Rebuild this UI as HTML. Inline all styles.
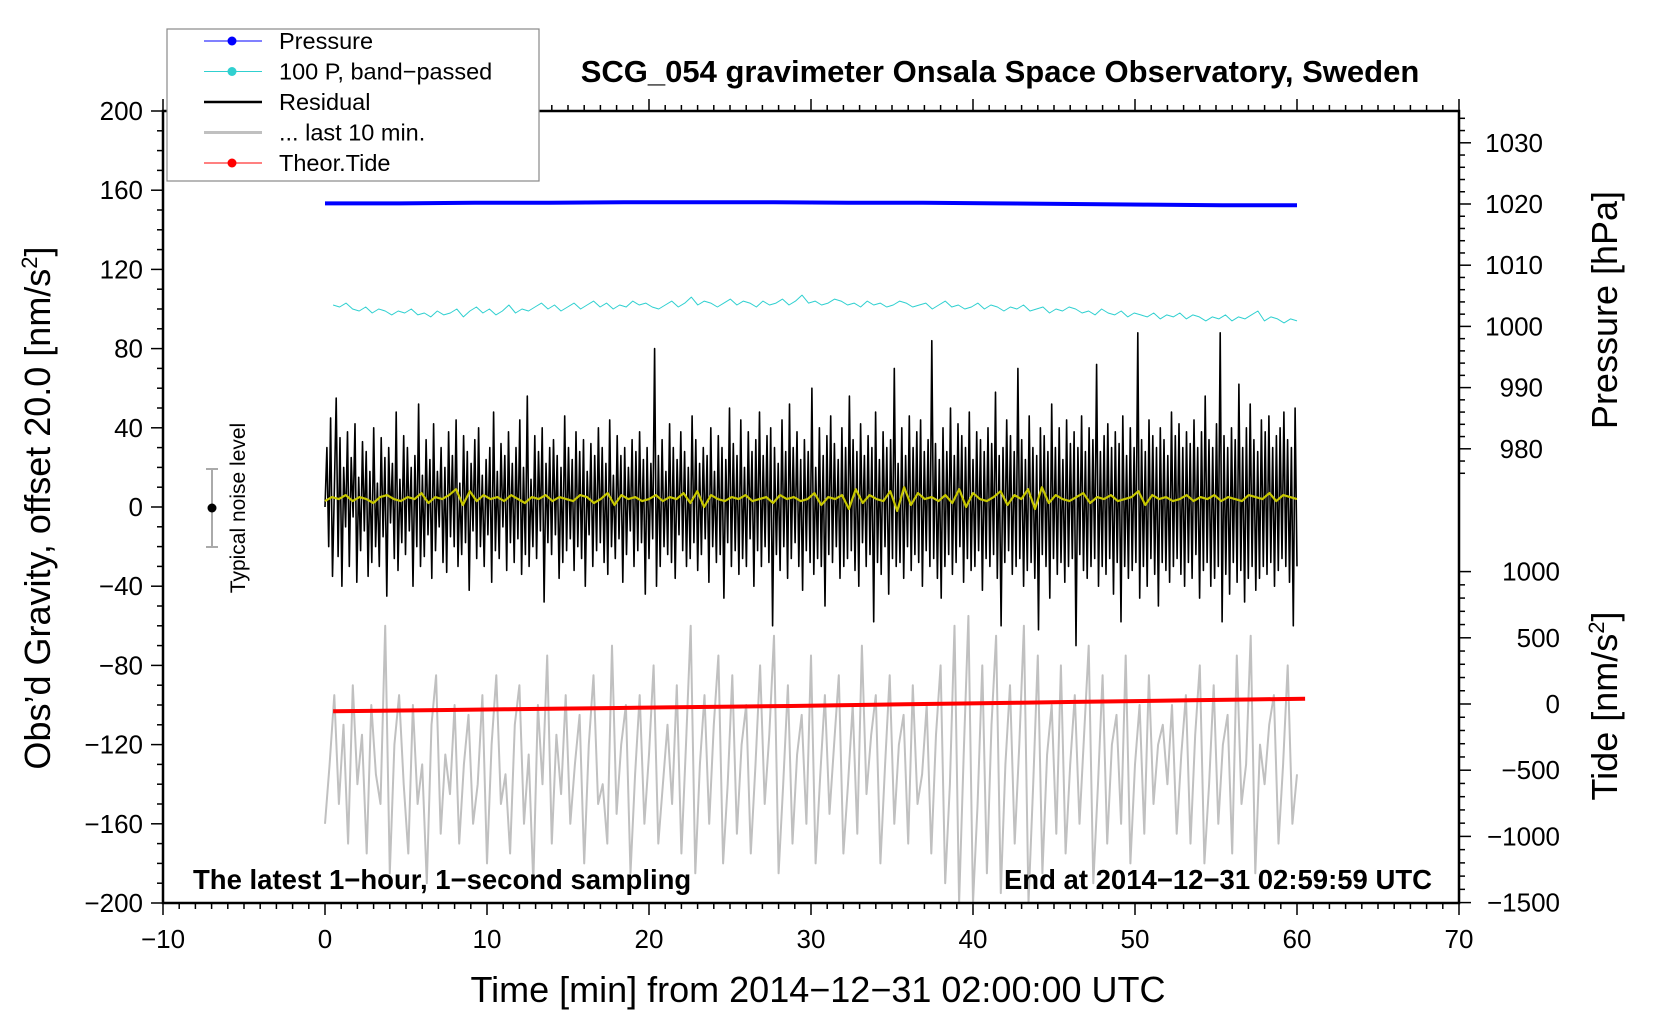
<!DOCTYPE html>
<html><head><meta charset="utf-8"><style>
body{margin:0;background:#fff}
svg{display:block;font-family:"Liberation Sans",sans-serif}
</style></head><body>
<svg id="c" width="1660" height="1020" viewBox="0 0 1660 1020"></svg>
<script>
// ---- data ----
const xTicks=[-10,0,10,20,30,40,50,60,70];
const yTicks=[200,160,120,80,40,0,-40,-80,-120,-160,-200];
const pTicks=[1030,1020,1010,1000,990,980];
const tTicks=[1000,500,0,-500,-1000,-1500];
const pressure=[1020.1,1020.1,1020.2,1020.2,1020.3,1020.3,1020.3,1020.2,1020.2,1020.1,1020.0,1019.9,1019.8,1019.8];
const cyan=[102,101,103,100,99,101,98,100,99,97,99,98,100,97,98,96,99,97,98,100,96,99,101,98,100,97,99,102,98,100,99,101,103,100,102,99,101,103,100,102,104,101,103,100,102,101,104,102,103,101,100,102,104,101,103,106,102,104,103,101,103,105,102,104,103,101,104,102,103,105,102,104,107,103,104,102,103,105,104,102,103,101,104,102,103,101,102,104,103,101,102,103,100,102,104,101,102,100,101,103,100,102,101,99,101,100,102,99,100,101,98,100,99,101,100,98,99,97,100,98,97,99,96,98,97,96,98,95,97,96,98,95,97,96,94,96,95,97,94,96,95,97,99,94,96,95,93,95,94];
const yellow=[3,5,4,6,3,5,4,2,5,6,4,3,5,4,7,2,5,4,6,9,1,8,3,6,4,5,3,6,4,2,5,4,6,3,5,4,3,6,5,2,4,7,1,6,4,5,3,4,6,3,5,4,7,2,8,0,6,4,3,5,4,6,3,4,5,2,6,4,5,3,4,7,1,5,4,6,-1,9,2,6,4,3,8,-2,10,1,7,4,5,3,6,2,9,0,7,4,3,5,8,1,6,4,9,-1,10,2,6,4,3,5,7,2,5,4,6,3,4,5,8,1,6,4,5,3,4,6,3,5,4,6,3,5,4,3,6,5,4,7,3,6,5,4];
const residual=[0,30,-20,45,-35,10,55,-25,35,-40,20,-10,38,-30,25,-5,42,-38,15,-22,33,-12,28,-35,18,-28,40,-20,12,-30,35,-15,25,-45,30,-8,22,-26,48,-32,14,-18,36,-24,30,-12,20,-40,26,-20,52,-30,16,-25,34,-14,24,-36,42,-22,18,-10,30,-28,20,-33,38,-15,26,-20,44,-30,12,-24,36,-18,28,-42,22,-12,34,-26,40,-20,16,-30,24,-14,30,-38,48,-22,18,-26,32,-10,26,-32,38,-18,22,-28,30,-16,44,-34,20,-24,56,-30,14,-20,36,-26,28,-12,40,-48,22,-18,30,-24,34,-14,26,-36,20,-28,46,-22,30,-16,24,-32,38,-20,28,-26,34,-40,18,-14,32,-30,26,-22,40,-18,30,-28,22,-34,44,-20,16,-26,36,-16,26,-38,30,-24,20,-12,34,-30,28,-22,38,-18,24,-44,30,-26,22,-16,80,-40,26,-30,34,-20,18,-24,42,-28,30,-36,24,-14,38,-22,28,-30,20,-26,46,-18,34,-32,22,-24,30,-16,26,-38,40,-20,18,-28,36,-24,30,-46,24,-18,50,-30,32,-22,26,-34,44,-26,20,-30,38,-16,28,-40,34,-22,48,-30,26,-20,36,-28,40,-60,30,-24,22,-32,44,-20,28,-36,52,-26,30,-18,38,-30,24,-42,34,-22,28,-28,60,-34,20,-26,40,-30,26,-50,36,-24,46,-28,32,-20,24,-36,40,-30,30,-26,56,-22,34,-32,28,-40,42,-18,26,-30,36,-24,30,-58,48,-28,24,-34,38,-20,30,-44,34,-26,70,-30,22,-28,40,-36,26,-20,46,-32,30,-24,38,-28,44,-40,28,-22,34,-30,84,-26,32,-36,24,-46,40,-30,28,-24,50,-34,26,-28,42,-20,36,-38,30,-26,48,-32,24,-30,38,-22,34,-42,28,-26,40,-30,32,-24,58,-36,26,-60,30,-28,44,-22,36,-34,28,-30,70,-26,34,-40,24,-32,46,-28,30,-36,26,-62,40,-24,36,-30,28,-46,52,-26,30,-34,40,-28,24,-38,44,-30,32,-26,38,-70,30,-24,46,-32,28,-36,40,-30,34,-26,72,-40,28,-30,36,-34,42,-26,30,-44,38,-28,32,-58,46,-30,26,-36,40,-32,30,-28,88,-46,34,-30,28,-40,44,-26,36,-34,30,-50,40,-28,34,-32,26,-38,48,-30,36,-26,42,-34,30,-40,38,-28,32,-36,44,-24,30,-46,38,-32,56,-28,34,-40,30,-36,42,-30,88,-58,36,-34,30,-44,40,-28,34,-38,62,-32,30,-48,40,-36,52,-30,34,-42,28,-36,44,-30,38,-34,46,-28,30,-40,36,-32,40,-26,48,-30,34,-38,30,-60,50,-30];
const gray=[-160,-130,-95,-150,-110,-170,-90,-140,-115,-175,-100,-135,-150,-60,-185,-120,-95,-140,-175,-100,-150,-130,-190,-110,-85,-165,-125,-145,-100,-170,-130,-105,-160,-140,-95,-180,-120,-85,-150,-135,-175,-110,-90,-160,-125,-190,-100,-140,-75,-170,-115,-145,-95,-160,-130,-105,-180,-120,-85,-150,-140,-170,-70,-155,-120,-100,-185,-135,-95,-160,-125,-80,-170,-140,-110,-150,-90,-175,-120,-60,-185,-130,-95,-160,-110,-75,-180,-140,-85,-165,-120,-100,-175,-130,-80,-150,-115,-65,-185,-140,-90,-170,-125,-105,-160,-75,-180,-135,-95,-155,-120,-85,-175,-140,-100,-165,-70,-145,-115,-95,-180,-130,-85,-160,-120,-105,-170,-90,-150,-135,-100,-175,-115,-80,-190,-140,-60,-200,-125,-55,-200,-150,-80,-185,-110,-65,-195,-130,-90,-170,-120,-60,-200,-140,-75,-185,-125,-100,-165,-80,-175,-130,-95,-160,-115,-70,-190,-140,-85,-170,-120,-105,-160,-75,-180,-130,-100,-165,-85,-150,-120,-110,-140,-100,-165,-125,-95,-170,-115,-80,-180,-140,-90,-160,-120,-105,-175,-75,-150,-130,-65,-185,-120,-140,-110,-95,-170,-130,-80,-160,-135];
const tide=[-55,-50,-45,-40,-35,-30,-25,-20,-15,-8,-2,4,10,16,22,28,34,40];

// ---- layout ----
const X0=163,X1=1459,Y0=111,Y1=903;
const sx=v=>X0+(v+10)/80*(X1-X0);
const sy=v=>Y0+(200-v)/400*(Y1-Y0);
const sp=p=>204-(p-1020)*6.12;
const st=t=>704-t*0.1324;
const svg=document.getElementById('c');
const NS='http://www.w3.org/2000/svg';
function mk(tag,at,parent){const e=document.createElementNS(NS,tag);for(const k in at)e.setAttribute(k,at[k]);(parent||svg).appendChild(e);return e;}
function txt(s,at){const e=mk('text',at);e.textContent=s;return e;}
function series(arr,map,t0,t1,color,w,name){
  let d='';arr.forEach((v,i)=>{const x=sx(t0+(t1-t0)*i/(arr.length-1));d+=(i?'L':'M')+x.toFixed(1)+' '+map(v).toFixed(1);});
  const p=mk('path',{d:d,fill:'none',stroke:color,'stroke-width':w,'stroke-linejoin':'round'});
  
  
  return p;
}
series(gray,sy,0,60,'#c0c0c0',2,'last-10-min-line');
series(residual,sy,0,60,'#000',1.6,'residual-line');
series(yellow,sy,0,60,'#c8c800',2.2,'residual-smoothed-line');
series(cyan,sy,0.5,60,'#30d0d0',1,'band-passed-pressure-line');
series(pressure,sp,0,60,'#0000ff',4,'pressure-line');
series(tide,st,0.5,60.5,'#ff0000',4,'theor-tide-line');
const fr=mk('rect',{x:X0,y:Y0,width:X1-X0,height:Y1-Y0,fill:'none',stroke:'#000','stroke-width':2.5});

for(let v=-10;v<=70;v++){const x=sx(v),m=v%10===0;
  mk('line',{x1:x,x2:x,y1:Y1,y2:Y1+(m?12:6),stroke:'#000','stroke-width':1.5});
  mk('line',{x1:x,x2:x,y1:Y0,y2:Y0-(m?12:6),stroke:'#000','stroke-width':1.5});}
xTicks.forEach(v=>{const t=txt(String(v).replace('-','\u2212'),{x:sx(v),y:Y1+45,'font-size':26,'text-anchor':'middle'});
  });
for(let v=-200;v<=200;v+=10){const y=sy(v),m=v%40===0;mk('line',{x1:X0,x2:X0-(m?12:6),y1:y,y2:y,stroke:'#000','stroke-width':1.5});}
yTicks.forEach(v=>{const t=txt(String(v).replace('-','\u2212'),{x:X0-20,y:sy(v)+9,'font-size':26,'text-anchor':'end'});
  });
for(let p=976;p<=1034;p+=2){const y=sp(p),m=p%10===0;mk('line',{x1:X1,x2:X1+(m?12:6),y1:y,y2:y,stroke:'#000','stroke-width':1.5});}
pTicks.forEach(v=>{const t=txt(v,{x:X1+84,y:sp(v)+9,'font-size':26,'text-anchor':'end'});
  });
for(let t=-1500;t<=1000;t+=100){const y=st(t),m=t%500===0;mk('line',{x1:X1,x2:X1+(m?12:6),y1:y,y2:y,stroke:'#000','stroke-width':1.5});}
tTicks.forEach(v=>{const t=txt(String(v).replace('-','\u2212'),{x:X1+101,y:st(v)+9,'font-size':26,'text-anchor':'end'});
  });
let e;
e=txt('SCG_054 gravimeter Onsala Space Observatory, Sweden',{x:1000,y:82,'font-size':31,'font-weight':'bold','text-anchor':'middle'});

e=txt('Time [min] from 2014\u221212\u221231 02:00:00 UTC',{x:818,y:1002,'font-size':36,'text-anchor':'middle'});

e=mk('text',{transform:'translate(50,508) rotate(-90)','font-size':36,'text-anchor':'middle'});
e.innerHTML='Obs\u2019d Gravity, offset 20.0 [nm/s<tspan font-size="22" dy="-13">2</tspan><tspan dy="13">]</tspan>';

e=txt('Pressure [hPa]',{transform:'translate(1617,310) rotate(-90)','font-size':36,'text-anchor':'middle'});

e=mk('text',{transform:'translate(1617,706) rotate(-90)','font-size':36,'text-anchor':'middle'});
e.innerHTML='Tide [nm/s<tspan font-size="22" dy="-13">2</tspan><tspan dy="13">]</tspan>';

e=txt('The latest 1\u2212hour, 1\u2212second sampling',{x:193,y:889,'font-size':27.5,'font-weight':'bold'});

e=txt('End at 2014\u221212\u221231 02:59:59 UTC',{x:1432,y:889,'font-size':27.5,'font-weight':'bold','text-anchor':'end'});

mk('line',{x1:212,x2:212,y1:469,y2:547,stroke:'#aaa','stroke-width':2});
mk('line',{x1:206,x2:218,y1:469,y2:469,stroke:'#aaa','stroke-width':2});
mk('line',{x1:206,x2:218,y1:547,y2:547,stroke:'#aaa','stroke-width':2});
mk('circle',{cx:212,cy:508,r:4.5,fill:'#000'});
e=txt('Typical noise level',{transform:'translate(245,508) rotate(-90)','font-size':21,'text-anchor':'middle'});

const lg=mk('g',{});
mk('rect',{x:167,y:29,width:372,height:152,fill:'#fff',stroke:'#888','stroke-width':1.2},lg);
const leg=[['Pressure','#0000ff',1,true],['100 P, band\u2212passed','#30d0d0',1,true],['Residual','#000',2.5,false],['... last 10 min.','#c0c0c0',3,false],['Theor.Tide','#ff0000',1,true]];
leg.forEach((l,i)=>{const y=41+i*30.5;
  mk('line',{x1:204,x2:262,y1:y,y2:y,stroke:l[1],'stroke-width':l[2]},lg);
  if(l[3])mk('circle',{cx:232,cy:y,r:4.5,fill:l[1]},lg);
  const t=mk('text',{x:279,y:y+8,'font-size':23.5},lg);t.textContent=l[0];
  });
</script>
</body></html>
